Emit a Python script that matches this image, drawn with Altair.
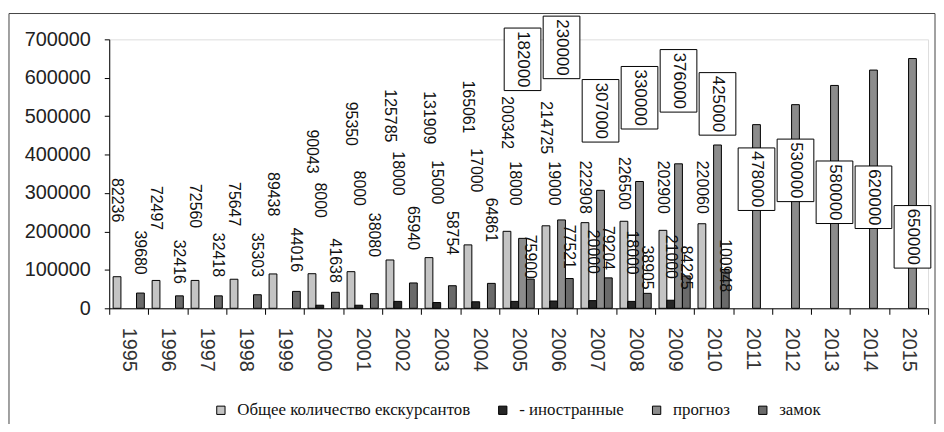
import altair as alt
import pandas as pd

years = [str(y) for y in range(1995, 2016)]

series_names = ["Общее количество екскурсантов", "- иностранные", "прогноз", "замок"]
series_colors = ["#c4c4c4", "#262626", "#8c8c8c", "#6a6a6a"]

total = [82236, 72497, 72560, 75647, 89438, 90043, 95350, 125785, 131909, 165061,
         200342, 214725, 222908, 226500, 202900, 220060, None, None, None, None, None]
foreign = [None, None, None, None, None, 8000, 8000, 18000, 15000, 17000,
           18000, 19000, 20000, 18000, 21000, None, None, None, None, None, None]
prognoz = [None, None, None, None, None, None, None, None, None, None,
           182000, 230000, 307000, 330000, 376000, 425000, 478000, 530000, 580000, 620000, 650000]
zamok = [39680, 32416, 32418, 35303, 44016, 41638, 38080, 65940, 58754, 64861,
         75900, 77521, 79204, 38905, 84225, 100948, None, None, None, None, None]

y_ticks = [0, 100000, 200000, 300000, 400000, 500000, 600000, 700000]

# where each value label sits (in data units)
total_label_at = [281500, 261000, 266000, 271000, 297000, 408000, 480000, 501000, 496000, 524000,
                  483000, 470000, 315000, 325000, 315000, 315000, None, None, None, None, None]
foreign_label_at = [None, None, None, None, None, 281500, 312500, 351000, 328000, 359000,
                    325000, 325000, 147000, 145000, 134000, None, None, None, None, None, None]
prognoz_label_at = [None, None, None, None, None, None, None, None, None, None,
                    648000, 679000, 514000, 548000, 592000, 532000, 336000, 359000, 302000, 289000, 186000]
zamok_label_at = [145000, 121000, 139000, 139000, 152000, 124000, 191000, 209000, 196000, 230000,
                  134000, 160000, 157000, 106000, 106000, 111000, None, None, None, None, None]

rows = []
for name, vals, labs in zip(series_names,
                            [total, foreign, prognoz, zamok],
                            [total_label_at, foreign_label_at, prognoz_label_at, zamok_label_at]):
    for yr, v, la in zip(years, vals, labs):
        if v is None:
            continue
        rows.append({"year": yr, "series": name, "value": v, "label_at": la})
df = pd.DataFrame(rows)

x_axis = alt.Axis(title=None, labelAngle=90, tickBand="extent", tickSize=6,
                  labelPadding=13, labelFont="Liberation Sans", labelFontSize=20,
                  labelColor="#333", domainColor="#000", tickColor="#000",
                  labelOverlap=False)
y_axis = alt.Axis(title=None, values=y_ticks, format="d", grid=False, tickSize=5,
                  labelPadding=14, labelOverlap=False, labelFont="Liberation Sans",
                  labelFontSize=20, labelColor="#222", domainColor="#000", tickColor="#000")
x_scale = alt.Scale(domain=years, paddingInner=0, paddingOuter=0)
xo_scale = alt.Scale(domain=series_names, paddingInner=0, paddingOuter=0.5)
y_scale = alt.Scale(domain=[0, 700000], nice=False, zero=True)


def xenc():
    return alt.X("year:N", sort=years, scale=x_scale, axis=x_axis)


def xoenc():
    return alt.XOffset("series:N", sort=series_names, scale=xo_scale)


base = alt.Chart(df)

bars = base.mark_bar(stroke="#000", strokeWidth=1).encode(
    x=xenc(),
    xOffset=xoenc(),
    y=alt.Y("value:Q", scale=y_scale, axis=y_axis),
    color=alt.Color("series:N", sort=series_names,
                    scale=alt.Scale(domain=series_names, range=series_colors),
                    legend=alt.Legend(title=None, orient="none", legendX=104, legendY=365,
                                      direction="horizontal", columns=4,
                                      symbolType="square", symbolSize=70,
                                      symbolStrokeColor="#000", symbolStrokeWidth=1,
                                      labelFont="Liberation Serif", labelFontSize=17,
                                      labelLimit=0, labelColor="#111", labelOffset=8,
                                      columnPadding=24)),
)

plain_labels = base.transform_filter(
    "isValid(datum.label_at) && datum.series != 'прогноз'"
).mark_text(angle=90, align="center", baseline="middle", font="Liberation Sans",
            fontSize=16, color="#111").encode(
    x=xenc(),
    xOffset=xoenc(),
    y=alt.Y("label_at:Q", scale=y_scale, axis=y_axis),
    text=alt.Text("value:Q", format="d"),
)

box_path = "M-0.587,-1H0.587V1H-0.587Z"
boxes = base.transform_filter(
    "isValid(datum.label_at) && datum.series == 'прогноз'"
).mark_point(shape=box_path, size=3969, filled=True, fill="white", stroke="#000",
             strokeWidth=1, opacity=1).encode(
    x=xenc(),
    xOffset=xoenc(),
    y=alt.Y("label_at:Q", scale=y_scale, axis=y_axis),
)

box_text = base.transform_filter(
    "isValid(datum.label_at) && datum.series == 'прогноз'"
).mark_text(angle=90, align="center", baseline="middle", font="Liberation Sans",
            fontSize=17, color="#111").encode(
    x=xenc(),
    xOffset=xoenc(),
    y=alt.Y("label_at:Q", scale=y_scale, axis=y_axis),
    text=alt.Text("value:Q", format="d"),
)

frame = alt.Chart(pd.DataFrame({"a": [0]})).mark_rect(
    fillOpacity=0, stroke="#444", strokeWidth=1
).encode(x=alt.value(-101), x2=alt.value(832), y=alt.value(-26), y2=alt.value(390))

chart = alt.layer(bars, plain_labels, boxes, box_text, frame).properties(
    width=825, height=271,
    autosize=alt.AutoSizeParams(type="none"),
    padding={"left": 102, "top": 30, "right": 8, "bottom": 115},
).configure_view(stroke=None).configure_axisY(labelOverlap=False).configure(background="white")

chart.save("out.html", embed_options={"renderer": "svg", "actions": False})
